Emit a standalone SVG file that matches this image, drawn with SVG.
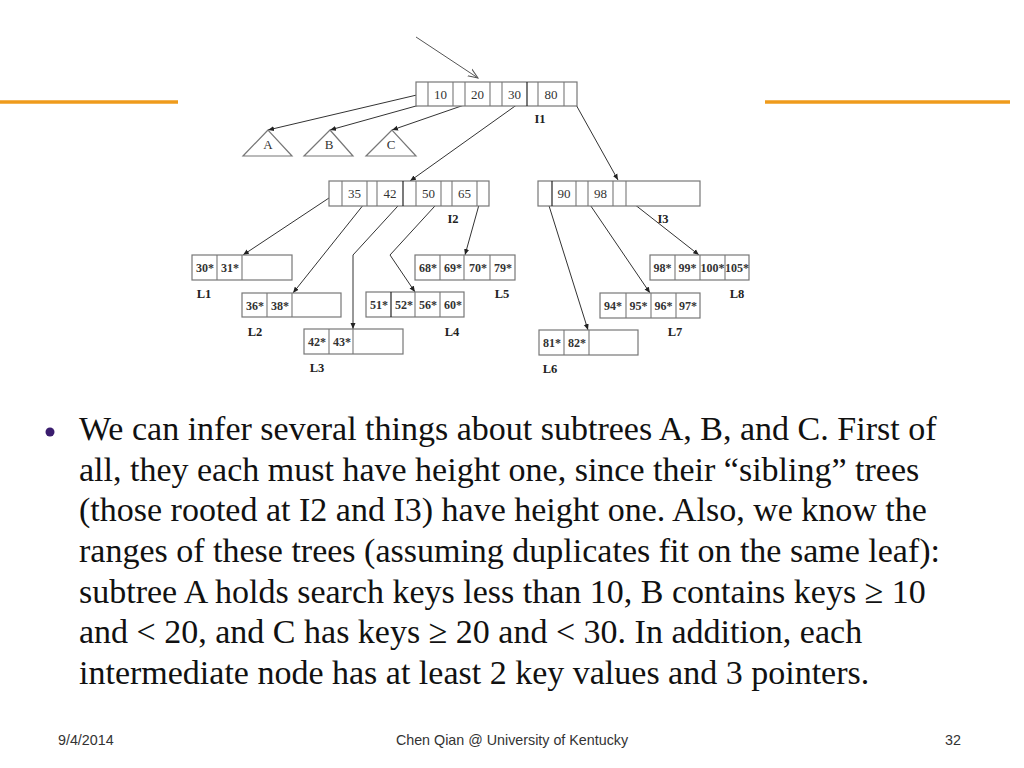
<svg xmlns="http://www.w3.org/2000/svg" width="1024" height="768" viewBox="0 0 1024 768">
<style>
.box{fill:#fff;stroke:#777;stroke-width:1.2}
.dv{stroke:#777;stroke-width:1.1}
.dk{stroke:#222;stroke-width:1.2}
.key{font-family:"Liberation Serif",serif;font-size:13px;fill:#333;text-anchor:middle}
.lk{font-family:"Liberation Serif",serif;font-size:12px;font-weight:bold;fill:#333;text-anchor:middle}
.lbl{font-family:"Liberation Serif",serif;font-size:12.5px;font-weight:bold;fill:#222;text-anchor:middle}
.tri{fill:#fff;stroke:#777;stroke-width:1.2}
.conn{stroke:#333;stroke-width:1;fill:none;marker-end:url(#ah)}
.body{font-family:"Liberation Serif","Times New Roman",serif;font-size:34px;fill:#111}
.foot{font-family:"Liberation Sans",Arial,sans-serif;font-size:14.3px;fill:#333}
.orange{stroke:#EF9B1C;stroke-width:3.5}
</style>
<defs>
<marker id="ah" markerWidth="7" markerHeight="6" refX="6" refY="3" orient="auto" markerUnits="userSpaceOnUse">
<path d="M0,0.5 L6,3 L0,5.5 Z" fill="#222"/>
</marker>
<marker id="ao" markerWidth="12" markerHeight="10" refX="10" refY="5" orient="auto" markerUnits="userSpaceOnUse">
<path d="M0,1 L10,5 L0,9" fill="none" stroke="#555" stroke-width="1"/>
</marker>
</defs>
<rect width="1024" height="768" fill="#fff"/>
<line class="orange" x1="0" y1="102" x2="178" y2="102"/>
<line class="orange" x1="765" y1="102" x2="1010" y2="102"/>

<g id="connectors">
<line x1="416" y1="37" x2="478" y2="78" stroke="#555" stroke-width="1" marker-end="url(#ao)"/>
<line class="conn" x1="421" y1="94" x2="268" y2="130"/>
<line class="conn" x1="459" y1="94" x2="330" y2="130"/>
<line class="conn" x1="496" y1="94" x2="392" y2="130"/>
<line class="conn" x1="532" y1="94" x2="410" y2="181"/>
<line class="conn" x1="570" y1="94" x2="618" y2="180"/>
<line class="conn" x1="335" y1="194" x2="243" y2="255"/>
<line class="conn" x1="372" y1="194" x2="293" y2="293"/>
<polyline class="conn" points="408,195 353,255 353,329"/>
<polyline class="conn" points="445,195 390,255 415,292"/>
<line class="conn" x1="482" y1="194" x2="465" y2="255"/>
<line class="conn" x1="545" y1="193" x2="588" y2="330"/>
<line class="conn" x1="582" y1="193" x2="650" y2="293"/>
<line class="conn" x1="620" y1="193" x2="699" y2="255"/>
</g>

<g id="I1">
<rect class="box" x="416" y="82" width="161" height="24"/>
<line class="dv" x1="428" y1="82" x2="428" y2="106"/>
<line class="dv" x1="453" y1="82" x2="453" y2="106"/>
<line class="dv" x1="465" y1="82" x2="465" y2="106"/>
<line class="dv" x1="490" y1="82" x2="490" y2="106"/>
<line class="dv" x1="502" y1="82" x2="502" y2="106"/>
<line class="dk" x1="527" y1="82" x2="527" y2="106"/>
<line class="dv" x1="538" y1="82" x2="538" y2="106"/>
<line class="dv" x1="564" y1="82" x2="564" y2="106"/>
<text class="key" x="440.5" y="99">10</text>
<text class="key" x="477.5" y="99">20</text>
<text class="key" x="514.5" y="99">30</text>
<text class="key" x="551" y="99">80</text>
<text class="lbl" x="540" y="123">I1</text>
</g>

<g id="A"><polygon class="tri" points="268,130 243,156 292,156"/><text class="key" x="268" y="149">A</text></g>
<g id="B"><polygon class="tri" points="330,130 304,156 353,156"/><text class="key" x="329" y="149">B</text></g>
<g id="C"><polygon class="tri" points="392,130 366,156 416,156"/><text class="key" x="391" y="149">C</text></g>

<g id="I2">
<rect class="box" x="329" y="181" width="160" height="25"/>
<line class="dv" x1="342" y1="181" x2="342" y2="206"/>
<line class="dv" x1="367" y1="181" x2="367" y2="206"/>
<line class="dv" x1="377" y1="181" x2="377" y2="206"/>
<line class="dk" x1="403" y1="181" x2="403" y2="206"/>
<line class="dv" x1="416" y1="181" x2="416" y2="206"/>
<line class="dv" x1="441" y1="181" x2="441" y2="206"/>
<line class="dv" x1="452" y1="181" x2="452" y2="206"/>
<line class="dv" x1="477" y1="181" x2="477" y2="206"/>
<text class="key" x="354.5" y="198">35</text>
<text class="key" x="390" y="198">42</text>
<text class="key" x="428.5" y="198">50</text>
<text class="key" x="464.5" y="198">65</text>
<text class="lbl" x="453" y="223">I2</text>
</g>

<g id="I3">
<rect class="box" x="538" y="181" width="162" height="25"/>
<line class="dk" x1="552" y1="181" x2="552" y2="206"/>
<line class="dv" x1="576" y1="181" x2="576" y2="206"/>
<line class="dv" x1="588" y1="181" x2="588" y2="206"/>
<line class="dv" x1="613" y1="181" x2="613" y2="206"/>
<line class="dv" x1="626" y1="181" x2="626" y2="206"/>
<text class="key" x="564" y="198">90</text>
<text class="key" x="600.5" y="198">98</text>
<text class="lbl" x="663" y="223">I3</text>
</g>

<g id="L1">
<rect class="box" x="192" y="255" width="100" height="25"/>
<line class="dv" x1="217" y1="255" x2="217" y2="280"/>
<line class="dv" x1="242" y1="255" x2="242" y2="280"/>
<text class="lk" x="205" y="272">30*</text>
<text class="lk" x="230" y="272">31*</text>
<text class="lbl" x="204" y="298">L1</text>
</g>
<g id="L2">
<rect class="box" x="242" y="293" width="99" height="24"/>
<line class="dv" x1="267" y1="293" x2="267" y2="317"/>
<line class="dv" x1="292" y1="293" x2="292" y2="317"/>
<text class="lk" x="255" y="310">36*</text>
<text class="lk" x="280" y="310">38*</text>
<text class="lbl" x="255" y="336">L2</text>
</g>
<g id="L3">
<rect class="box" x="304" y="329" width="99" height="25"/>
<line class="dv" x1="329" y1="329" x2="329" y2="354"/>
<line class="dv" x1="353" y1="329" x2="353" y2="354"/>
<text class="lk" x="317" y="346">42*</text>
<text class="lk" x="342" y="346">43*</text>
<text class="lbl" x="317" y="372">L3</text>
</g>
<g id="L4">
<rect class="box" x="366" y="292" width="98" height="25"/>
<line class="dk" x1="391" y1="292" x2="391" y2="317"/>
<line class="dv" x1="415" y1="292" x2="415" y2="317"/>
<line class="dv" x1="440" y1="292" x2="440" y2="317"/>
<text class="lk" x="379" y="309">51*</text>
<text class="lk" x="404" y="309">52*</text>
<text class="lk" x="428" y="309">56*</text>
<text class="lk" x="453" y="309">60*</text>
<text class="lbl" x="452" y="336">L4</text>
</g>
<g id="L5">
<rect class="box" x="415" y="255" width="100" height="25"/>
<line class="dv" x1="440" y1="255" x2="440" y2="280"/>
<line class="dv" x1="464" y1="255" x2="464" y2="280"/>
<line class="dv" x1="490" y1="255" x2="490" y2="280"/>
<text class="lk" x="428" y="272">68*</text>
<text class="lk" x="453" y="272">69*</text>
<text class="lk" x="478" y="272">70*</text>
<text class="lk" x="503" y="272">79*</text>
<text class="lbl" x="502" y="298">L5</text>
</g>
<g id="L6">
<rect class="box" x="539" y="330" width="99" height="25"/>
<line class="dv" x1="564" y1="330" x2="564" y2="355"/>
<line class="dv" x1="589" y1="330" x2="589" y2="355"/>
<text class="lk" x="552" y="347">81*</text>
<text class="lk" x="577" y="347">82*</text>
<text class="lbl" x="550" y="373">L6</text>
</g>
<g id="L7">
<rect class="box" x="600" y="293" width="100" height="25"/>
<line class="dv" x1="626" y1="293" x2="626" y2="318"/>
<line class="dv" x1="651" y1="293" x2="651" y2="318"/>
<line class="dv" x1="676" y1="293" x2="676" y2="318"/>
<text class="lk" x="613" y="310">94*</text>
<text class="lk" x="638.5" y="310">95*</text>
<text class="lk" x="663.5" y="310">96*</text>
<text class="lk" x="688" y="310">97*</text>
<text class="lbl" x="675" y="336">L7</text>
</g>
<g id="L8">
<rect class="box" x="650" y="255" width="99" height="25"/>
<line class="dv" x1="675" y1="255" x2="675" y2="280"/>
<line class="dv" x1="700" y1="255" x2="700" y2="280"/>
<line class="dv" x1="725" y1="255" x2="725" y2="280"/>
<text class="lk" x="662.5" y="272">98*</text>
<text class="lk" x="687.5" y="272">99*</text>
<text class="lk" x="712.5" y="272">100*</text>
<text class="lk" x="737" y="272">105*</text>
<text class="lbl" x="737" y="298">L8</text>
</g>

<circle cx="50" cy="432" r="4.5" fill="#3a1d6e"/>
<text class="body" x="79" y="440">We can infer several things about subtrees A, B, and C. First of</text>
<text class="body" x="79" y="480.7">all, they each must have height one, since their “sibling” trees</text>
<text class="body" x="79" y="521.3">(those rooted at I2 and I3) have height one. Also, we know the</text>
<text class="body" x="79" y="562">ranges of these trees (assuming duplicates fit on the same leaf):</text>
<text class="body" x="79" y="602.7">subtree A holds search keys less than 10, B contains keys ≥ 10</text>
<text class="body" x="79" y="643.3">and &lt; 20, and C has keys ≥ 20 and &lt; 30. In addition, each</text>
<text class="body" x="79" y="684">intermediate node has at least 2 key values and 3 pointers.</text>

<text class="foot" x="58" y="745">9/4/2014</text>
<text class="foot" x="512" y="745" text-anchor="middle">Chen Qian @ University of Kentucky</text>
<text class="foot" x="961" y="745" text-anchor="end">32</text>
</svg>
